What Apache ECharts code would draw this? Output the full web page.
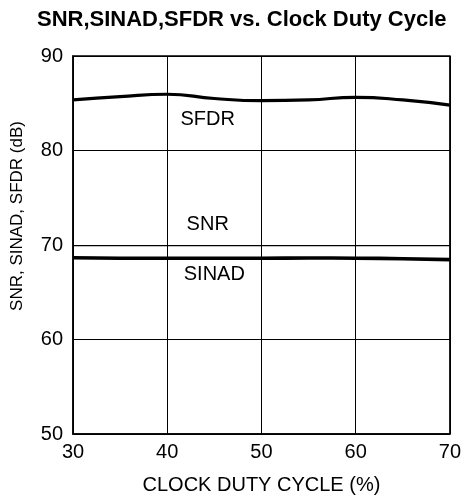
<!DOCTYPE html>
<html>
<head>
<meta charset="utf-8">
<script src="https://cdn.jsdelivr.net/npm/echarts@6/dist/echarts.min.js"></script>
<style>
  html, body { margin: 0; padding: 0; background: #fff; }
  #chart { width: 464px; height: 502px; }
</style>
</head>
<body>
<div id="chart"></div>
<script>
// duty cycle (%)
var dutyCycle = [30, 35, 40, 45, 50, 55, 60, 65, 70]
var sfdr = [85.35, 85.7, 85.95, 85.5, 85.27, 85.35, 85.63, 85.35, 84.8]
var snr = [69.93, 69.93, 69.93, 69.93, 69.93, 69.93, 69.93, 69.93, 69.93]
var sinad = [68.65, 68.6, 68.6, 68.6, 68.6, 68.62, 68.6, 68.55, 68.45]
var xTicks = [30, 40, 50, 60, 70]
var yTicks = [50, 60, 70, 80, 90]

// where the curve names sit (data coords)
var labelPos = {
  SFDR: [44.3, 83.3],
  SNR: [44.3, 72.2],
  SINAD: [45.0, 66.9]
}

var font = 'Liberation Sans, Arial, Helvetica, sans-serif'

function pairs(ys) {
  return dutyCycle.map(function (x, i) { return [x, ys[i]] })
}

function lineSeries(name, ys, width) {
  return {
    name: name,
    type: 'line',
    data: pairs(ys),
    smooth: true,
    showSymbol: false,
    lineStyle: { color: '#000', width: width },
    markPoint: {
      symbol: 'circle',
      symbolSize: 1,
      itemStyle: { color: 'rgba(0,0,0,0)' },
      data: [{ coord: labelPos[name], value: name }],
      label: {
        show: true,
        position: 'inside',
        formatter: name,
        color: '#000',
        fontFamily: font,
        fontSize: 20
      }
    },
    z: 5
  }
}

var chart = echarts.init(document.getElementById('chart'))
var option = {
  animation: false,
  title: {
    text: 'SNR,SINAD,SFDR vs. Clock Duty Cycle',
    left: 32,
    top: 4,
    textStyle: {
      fontFamily: font,
      fontSize: 22,
      fontWeight: 'bold',
      color: '#000'
    }
  },
  grid: {
    left: 73,
    right: 13,
    top: 56,
    bottom: 68,
    show: true,
    borderColor: '#000',
    borderWidth: 1.5
  },
  xAxis: {
    type: 'value',
    min: xTicks[0],
    max: xTicks[xTicks.length - 1],
    interval: 10,
    name: 'CLOCK DUTY CYCLE (%)',
    nameLocation: 'middle',
    nameGap: 41,
    nameTextStyle: { fontFamily: font, fontSize: 20, color: '#000' },
    axisLine: { lineStyle: { color: '#000', width: 1.5 } },
    axisTick: { show: false },
    axisLabel: { margin: 8, fontFamily: font, fontSize: 20, color: '#000' },
    splitLine: { lineStyle: { color: '#000', width: 1 } }
  },
  yAxis: {
    type: 'value',
    min: yTicks[0],
    max: yTicks[yTicks.length - 1],
    interval: 10,
    name: 'SNR, SINAD, SFDR (dB)',
    nameLocation: 'middle',
    nameRotate: 90,
    nameGap: 47,
    nameTextStyle: { fontFamily: font, fontSize: 17, color: '#000', padding: [0, 0, 0, 58] },
    axisLine: { lineStyle: { color: '#000', width: 1.5 } },
    axisTick: { show: false },
    axisLabel: { margin: 10, fontFamily: font, fontSize: 20, color: '#000' },
    splitLine: { lineStyle: { color: '#000', width: 1 } }
  },
  series: [
    lineSeries('SFDR', sfdr, 3.2),
    lineSeries('SNR', snr, 1.3),
    lineSeries('SINAD', sinad, 3.6)
  ]
}
chart.setOption(option)
</script>
</body>
</html>
